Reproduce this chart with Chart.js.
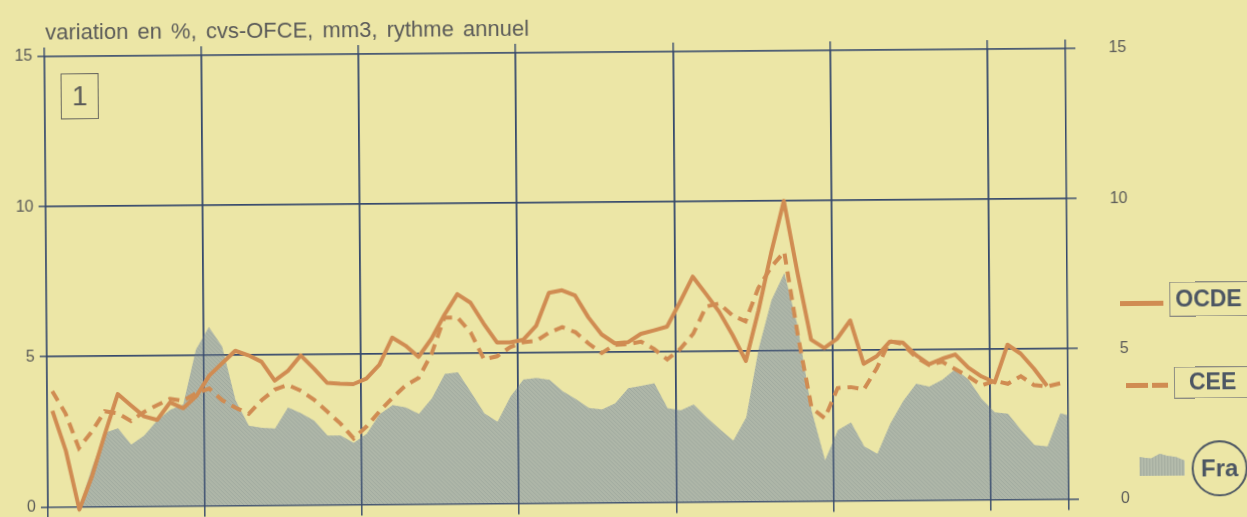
<!DOCTYPE html>
<html>
<head>
<meta charset="utf-8">
<script src="https://cdn.jsdelivr.net/npm/chart.js@4/dist/chart.umd.min.js"></script>
<style>
  html, body { margin: 0; padding: 0; background: #ece6a6; overflow: hidden; }
  #page {
    position: absolute; left: 0; top: 0; width: 1247px; height: 517px;
    transform: rotate(-0.45deg); transform-origin: 623px 258px;
    font-family: "Liberation Sans", Arial, sans-serif;
  }
  #chart { position: absolute; left: 0; top: 0; }
  .title {
    position: absolute; left: 47px; top: 17px; font-size: 22px; line-height: 22px;
    color: #5a5a58; word-spacing: 3px; white-space: nowrap;
  }
  .num {
    position: absolute; left: 62px; top: 69px; width: 38px; height: 46px; box-sizing: border-box;
    border: 1.5px solid #6a6960; font-size: 28px; line-height: 43px; text-align: center; color: #5a5a58;
  }
  .box {
    position: absolute; box-sizing: border-box; width: 120px; border: 1.5px solid #8e8d82;
    font-weight: bold; font-size: 23px; color: #4c5663; white-space: nowrap;
  }
  .seg { position: absolute; height: 5px; background: #d08c52; }
  .fraIcon {
    position: absolute; left: 1138px; top: 456px; width: 45px; height: 24px;
    background: repeating-linear-gradient(90deg, #a9b1a3 0 2px, #bac1b0 2px 3px),
                #aeb6a7;
    clip-path: polygon(0 22%, 25% 28%, 45% 8%, 62% 18%, 80% 22%, 100% 38%, 100% 100%, 0 100%);
  }
  .circle {
    position: absolute; left: 1190px; top: 445px; width: 56px; height: 56px; box-sizing: border-box;
    border: 2px solid #4c5663; border-radius: 50%; text-align: center; line-height: 52px;
    font-weight: bold; font-size: 24px; color: #4c5663;
  }
</style>
</head>
<body>
<div id="page">
  <canvas id="chart" width="1247" height="517"></canvas>
  <div class="title">variation en %, cvs-OFCE, mm3, rythme annuel</div>
  <div class="num">1</div>

  <div class="seg" style="left:1120px; top:305px; width:43px;"></div>
  <div class="box" style="left:1169px; top:286px; height:35px; line-height:32px; padding-left:5px;">OCDE</div>

  <div class="seg" style="left:1125px; top:387px; width:22px;"></div>
  <div class="seg" style="left:1151px; top:387px; width:16px;"></div>
  <div class="box" style="left:1173px; top:371px; height:32px; line-height:29px; padding-left:14px;">CEE</div>

  <div class="fraIcon"></div>
  <div class="circle">Fra</div>
</div>
<script>
// month position of each monthly point (0 = start of first year on the grid)
const months = [0.4, 1.4, 2.4, 3.4, 4.4, 5.4, 6.4, 7.4, 8.4, 9.4, 10.4, 11.4, 12.4, 13.4, 14.4, 15.4,
  16.4, 17.4, 18.4, 19.4, 20.4, 21.4, 22.4, 23.4, 24.4, 25.4, 26.4, 27.4, 28.4, 29.4, 30.4, 31.4,
  32.4, 33.4, 34.4, 35.4, 36.4, 37.4, 38.4, 39.4, 40.4, 41.4, 42.4, 43.4, 44.4, 45.4, 46.4, 47.4,
  48.4, 49.4, 50.4, 51.4, 52.4, 53.4, 54.4, 55.4, 56.4, 57.4, 58.4, 59.4, 60.4, 61.4, 62.4, 63.4,
  64.4, 65.4, 66.4, 67.4, 68.4, 69.4, 70.4, 71.4, 72.4, 73.4, 74.4, 75.4, 76.4, 77.4, 78.4];

// year boundaries (vertical grid lines) and right frame edge
const gridMonths = [0, 12, 24, 36, 48, 60, 72, 78];
const yTicks = [0, 5, 10, 15];

const ocde = [3.2, 1.87, -0.1, 1.03, 2.42, 3.74, 3.36, 2.99, 2.87, 3.45, 3.25, 3.65, 4.33, 4.74, 5.15, 5.0,
  4.78, 4.15, 4.46, 4.98, 4.54, 4.06, 4.03, 4.01, 4.19, 4.65, 5.55, 5.28, 4.9, 5.5, 6.29, 6.98,
  6.69, 5.99, 5.36, 5.36, 5.44, 5.9, 7.0, 7.08, 6.9, 6.17, 5.6, 5.3, 5.33, 5.61, 5.72, 5.84,
  6.65, 7.5, 6.92, 6.32, 5.55, 4.68, 6.36, 8.27, 10.0, 7.6, 5.37, 5.09, 5.4, 6.0, 4.55, 4.8,
  5.28, 5.25, 4.83, 4.52, 4.7, 4.84, 4.4, 4.1, 3.9, 5.15, 4.85, 4.35, 3.77, null, null];

const cee = [3.85, 3.11, 1.95, 2.5, 3.17, 3.1, 2.84, 3.14, 3.36, 3.57, 3.5, 3.75, 3.9, 3.5, 3.25, 3.05,
  3.5, 3.85, 4.0, 3.8, 3.5, 3.1, 2.7, 2.2, 2.6, 3.1, 3.55, 3.95, 4.2, 5.0, 6.2, 6.2,
  5.7, 4.8, 4.9, 5.2, 5.36, 5.4, 5.68, 5.85, 5.68, 5.3, 4.98, 5.25, 5.27, 5.35, 5.1, 4.75,
  5.1, 5.6, 6.5, 6.6, 6.2, 6.0, 7.1, 7.8, 8.3, 5.5, 3.1, 2.75, 3.75, 3.78, 3.7, 4.4,
  5.3, 5.2, 4.76, 4.5, 4.6, 4.35, 4.1, 3.8, 3.95, 3.85, 4.1, 3.8, 3.75, 3.85, null];

const fra = [null, null, 0.0, 1.3, 2.45, 2.6, 2.05, 2.35, 2.85, 3.2, 3.38, 5.2, 5.95, 5.3, 3.5, 2.65,
  2.58, 2.55, 3.25, 3.05, 2.8, 2.3, 2.3, 2.05, 2.35, 3.0, 3.3, 3.22, 3.0, 3.52, 4.33, 4.38,
  3.7, 3.0, 2.72, 3.55, 4.12, 4.17, 4.1, 3.72, 3.45, 3.15, 3.1, 3.3, 3.8, 3.88, 3.96, 3.13,
  3.05, 3.24, 2.8, 2.4, 2.03, 2.8, 5.1, 6.7, 7.6, 5.8, 3.0, 1.35, 2.35, 2.6, 1.8, 1.55,
  2.55, 3.3, 3.88, 3.78, 4.0, 4.35, 4.0, 3.35, 2.9, 2.85, 2.3, 1.8, 1.75, 2.85, 2.75];

const ORANGE = '#d08c52';
const GRID = 'rgba(52,72,108,0.88)';
const TEXT = '#5a5a58';

const canvas = document.querySelector('#chart');
const ctx = canvas.getContext('2d');

// fine hatch texture for the France area
function hatch() {
  const c = document.createElement('canvas');
  c.width = 4; c.height = 4;
  const g = c.getContext('2d');
  g.fillStyle = '#aeb6a8';
  g.fillRect(0, 0, 4, 4);
  g.fillStyle = 'rgba(130,142,140,0.3)';
  for (let i = 0; i < 4; i++) g.fillRect(i, i, 1, 1);
  return ctx.createPattern(c, 'repeat');
}

const toXY = arr => months.map((m, i) => ({ x: m, y: arr[i] }));

// grid drawn again after the area so the lines stay visible on it
const gridOverArea = {
  id: 'gridOverArea',
  afterDatasetDraw(chart, args) {
    if (args.index !== 2) return;
    const a = chart.chartArea;
    const c = chart.ctx;
    c.save();
    c.beginPath();
    c.rect(a.left, a.top, a.right - a.left, a.bottom - a.top);
    c.clip();
    chart.scales.x.drawGrid(a);
    chart.scales.y.drawGrid(a);
    c.restore();
  }
};

const tickFont = { family: 'Liberation Sans', size: 16 };

const xCommon = {
  type: 'linear', min: 0, max: 78,
  afterBuildTicks: s => { s.ticks = gridMonths.map(v => ({ value: v })); },
  border: { display: false },
  ticks: { display: false }
};

new Chart(ctx, {
  type: 'line',
  data: {
    datasets: [
      {
        label: 'OCDE', data: toXY(ocde), borderColor: ORANGE, borderWidth: 4,
        pointRadius: 0, tension: 0, fill: false, clip: false, borderJoinStyle: 'round'
      },
      {
        label: 'CEE', data: toXY(cee), borderColor: ORANGE, borderWidth: 4, borderDash: [11, 7],
        pointRadius: 0, tension: 0, fill: false, clip: false
      },
      {
        label: 'Fra', data: toXY(fra), borderWidth: 0, borderColor: 'rgba(0,0,0,0)',
        backgroundColor: hatch(), fill: 'origin', pointRadius: 0, tension: 0, clip: 0
      }
    ]
  },
  options: {
    responsive: false,
    animation: false,
    devicePixelRatio: 1,
    layout: { padding: { left: 0, right: 119, top: 0, bottom: 0 } },
    plugins: { legend: { display: false }, tooltip: { enabled: false } },
    scales: {
      x: {
        ...xCommon, position: 'bottom',
        afterFit: s => { s.height = 11; },
        grid: { color: GRID, lineWidth: 1.6, tickLength: 11 }
      },
      xTop: {
        ...xCommon, position: 'top',
        afterFit: s => { s.height = 52; },
        grid: { color: GRID, lineWidth: 1.6, tickLength: 9, drawOnChartArea: false }
      },
      y: {
        position: 'left', min: 0, max: 15,
        afterBuildTicks: s => { s.ticks = yTicks.map(v => ({ value: v })); },
        afterFit: s => { s.width = 46; },
        border: { display: false },
        grid: { color: GRID, lineWidth: 1.6, tickLength: 7 },
        ticks: { color: TEXT, font: tickFont, padding: 5 }
      },
      y2: {
        position: 'right', min: 0, max: 15,
        afterBuildTicks: s => { s.ticks = yTicks.map(v => ({ value: v })); },
        afterFit: s => { s.width = 61; },
        border: { display: false },
        grid: { color: GRID, lineWidth: 1.6, tickLength: 10, drawOnChartArea: false },
        ticks: { color: TEXT, font: tickFont, crossAlign: 'far' }
      }
    }
  },
  plugins: [gridOverArea]
});
</script>
</body>
</html>
